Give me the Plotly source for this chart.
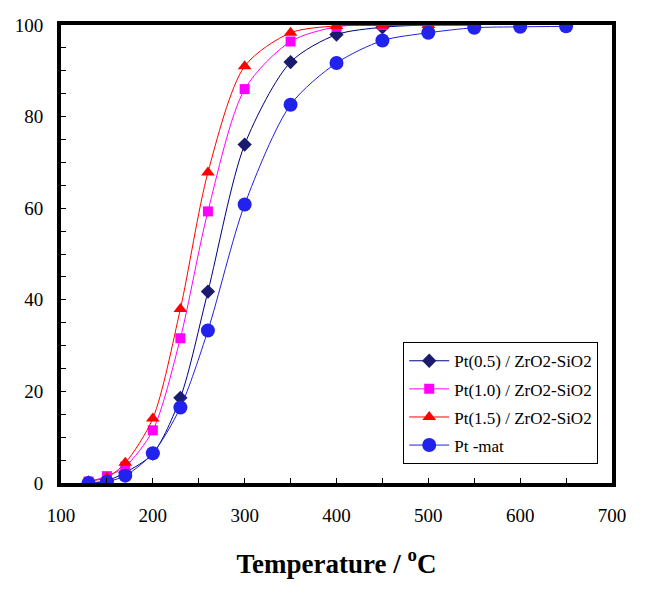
import plotly.graph_objects as go

temps = [130, 150, 170, 200, 230, 260, 300, 350, 400, 450, 500, 550, 600, 650]

pt05_x = [130, 150, 170, 200, 230, 260, 300, 350, 400, 450, 500, 550]
pt05_y = [0.0, 0.5, 2.3, 6.4, 18.6, 41.8, 73.9, 91.9, 97.9, 99.5, 100, 100]

pt10_x = [130, 150, 170, 200, 230, 260, 300, 350, 400, 450, 500, 550]
pt10_y = [0.3, 1.5, 3.6, 11.5, 31.6, 59.3, 86.0, 96.4, 99.6, 100, 100, 100]

pt15_x = [130, 150, 170, 200, 230, 260, 300, 350, 400, 450, 500, 550]
pt15_y = [0.4, 1.2, 4.4, 14.1, 38.0, 67.8, 91.0, 98.3, 99.8, 99.9, 100, 100]

ptmat_x = temps
ptmat_y = [0.0, 0.3, 1.6, 6.5, 16.5, 33.3, 60.8, 82.6, 91.7, 96.6, 98.3, 99.4, 99.6, 99.7]

names = ["Pt(0.5) / ZrO2-SiO2", "Pt(1.0) / ZrO2-SiO2", "Pt(1.5) / ZrO2-SiO2", "Pt -mat"]
x_ticks = [100, 200, 300, 400, 500, 600, 700]
y_ticks = [0, 20, 40, 60, 80, 100]

series = [
    (pt05_x, pt05_y, names[0], "#000080", "#1a1a6e", "diamond", 11),
    (pt10_x, pt10_y, names[1], "#FF00FF", "#FF00FF", "square", 10),
    (pt15_x, pt15_y, names[2], "#FF0000", "#FF0000", "triangle-up", 12),
    (ptmat_x, ptmat_y, names[3], "#2020E0", "#2222EE", "circle", 14),
]

fig = go.Figure()
for i, (xs, ys, nm, lc, mc, sym, sz) in enumerate(series):
    fig.add_trace(go.Scatter(
        x=xs, y=ys, name=nm, mode="lines+markers",
        line=dict(color=lc, width=1, shape="spline", smoothing=0.8),
        marker=dict(symbol=sym, size=sz, color=mc, line=dict(width=0)),
        legendgroup=f"g{i}",
    ))

axis_font = dict(family="Liberation Serif", size=19, color="black")

fig.update_layout(
    width=643, height=590,
    margin=dict(l=46, r=39, t=7, b=115),
    paper_bgcolor="white", plot_bgcolor="white",
    showlegend=True,
    legend=dict(
        x=0.975, y=0.041, xanchor="right", yanchor="bottom",
        bgcolor="white", bordercolor="black", borderwidth=1,
        font=dict(family="Liberation Serif", size=17, color="black"),
        traceorder="grouped", tracegroupgap=3, itemwidth=40,
    ),
    xaxis=dict(
        range=[100, 700], tickvals=x_ticks, ticktext=[str(v) for v in x_ticks],
        ticks="inside", ticklen=5, tickwidth=1, tickcolor="black",
        minor=dict(dtick=50, tick0=100, ticks="inside", ticklen=5, tickcolor="black"),
        showline=True, linewidth=4, linecolor="black", mirror=True,
        showgrid=False, zeroline=False, tickfont=axis_font, ticklabelstandoff=12,
        title=dict(text="<b>Temperature / <sup>o</sup>C</b>",
                   font=dict(family="Liberation Serif", size=27, color="black"),
                   standoff=30),
    ),
    yaxis=dict(
        range=[0, 100], tickvals=y_ticks, ticktext=[str(v) for v in y_ticks],
        ticks="inside", ticklen=5, tickwidth=1, tickcolor="black",
        minor=dict(dtick=5, tick0=0, ticks="inside", ticklen=5, tickcolor="black"),
        showline=True, linewidth=4, linecolor="black", mirror=True,
        showgrid=False, zeroline=False, tickfont=axis_font, ticklabelstandoff=10,
    ),
)

fig.write_html("out.html")
